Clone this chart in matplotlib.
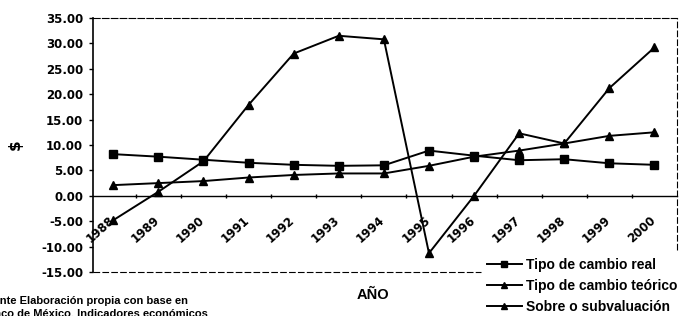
import matplotlib
matplotlib.use("Agg")
import matplotlib.pyplot as plt
import matplotlib.transforms as mtransforms
from matplotlib.ticker import FixedLocator, FormatStrFormatter

years = ["1988", "1989", "1990", "1991", "1992", "1993", "1994",
         "1995", "1996", "1997", "1998", "1999", "2000"]
real = [8.2, 7.7, 7.1, 6.5, 6.1, 5.9, 6.0, 8.9, 7.9, 7.0, 7.2, 6.4, 6.1]
teorico = [2.1, 2.5, 2.9, 3.6, 4.1, 4.4, 4.4, 5.9, 7.7, 8.9, 10.3, 11.8, 12.5]
sobre = [-4.8, 0.8, 6.8, 17.9, 28.0, 31.5, 30.8, -11.3, 0.0, 12.3, 10.3, 21.2, 29.2]

plt.rcParams["font.family"] = "DejaVu Sans"
plt.rcParams["font.weight"] = "bold"
arial = "Liberation Sans"

fig = plt.figure(figsize=(6.87, 3.16), dpi=100)
ax = fig.add_axes([93 / 687, 1 - 272 / 316, 584 / 687, 254 / 316])

x = list(range(len(years)))
ax.plot(x, real, color="black", lw=1.4, marker="s", ms=6, label="Tipo de cambio real")
ax.plot(x, teorico, color="black", lw=1.4, marker="^", ms=6, label="Tipo de cambio teórico")
ax.plot(x, sobre, color="black", lw=1.4, marker="^", ms=6, label="Sobre o subvaluación")

ax.set_xlim(-0.45, 12.5)
ax.set_ylim(-15, 35)
ax.set_yticks(range(-15, 36, 5))
ax.yaxis.set_major_formatter(FormatStrFormatter("%.2f"))
ax.tick_params(axis="y", labelsize=8.5, length=3, width=1, pad=4)

# x axis sits on zero, ticks between categories
ax.spines["bottom"].set_position(("data", 0))
ax.spines["bottom"].set_linewidth(1)
ax.set_xticks(x)
ax.set_xticklabels(years, rotation=42, ha="right", rotation_mode="anchor")
ax.xaxis.set_minor_locator(FixedLocator([i + 0.5 for i in range(12)]))
ax.tick_params(axis="x", which="major", length=0, labelsize=8.5, pad=13)
ax.tick_params(axis="x", which="minor", length=3, direction="inout", width=1)
shift = mtransforms.ScaledTranslation(-5 / 100, 0, fig.dpi_scale_trans)
for lbl in ax.get_xticklabels():
    lbl.set_transform(lbl.get_transform() + shift)

ax.spines["left"].set_linewidth(1.2)
ax.spines["right"].set_visible(False)
ax.spines["top"].set_linestyle((0, (6, 2)))
ax.spines["top"].set_linewidth(0.8)
ax.plot([12.5, 12.5], [-10.7, 35], color="black", lw=0.8, ls=(0, (6, 2)), clip_on=False)
ax.plot([-0.45, 8.15], [-15, -15], color="black", lw=0.8, ls=(0, (6, 2)), clip_on=False)

fig.text(15 / 687, 1 - 145 / 316, "$", rotation=90, fontsize=11, ha="center", va="center")
fig.text(373 / 687, 1 - 295 / 316, "AÑO", fontsize=10.5, family=arial,
         ha="center", va="center")
fig.text(-20 / 687, 1 - 296 / 316,
         "Fuente Elaboración propia con base en\nBanco de México, Indicadores económicos",
         fontsize=8, family=arial, ha="left", va="top", linespacing=1.3)

leg = ax.legend(loc="upper left", bbox_to_anchor=(487 / 687, 1 - 258 / 316),
                bbox_transform=fig.transFigure, frameon=False,
                prop={"family": arial, "weight": "bold", "size": 10},
                handlelength=2.5, handletextpad=0.3, labelspacing=0.5,
                borderpad=0, borderaxespad=0)
for h in leg.legend_handles:
    h.set_markersize(5)

fig.savefig("out.png", dpi=100)
